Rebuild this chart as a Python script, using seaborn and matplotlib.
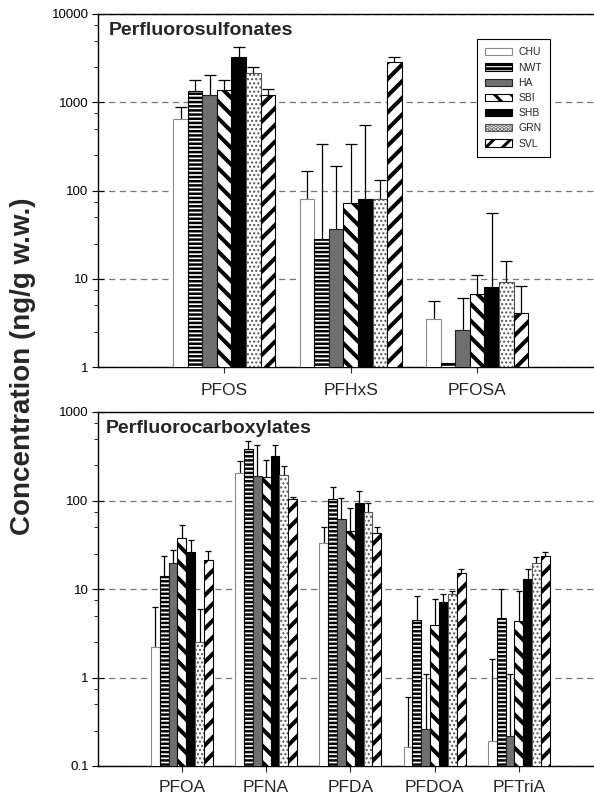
import numpy as np
import pandas as pd
import matplotlib
matplotlib.use("Agg")
import matplotlib.pyplot as plt
import matplotlib.ticker as mticker
from matplotlib.patches import Patch
import seaborn as sns

# ---------------- data ----------------
sites = ["CHU", "NWT", "HA", "SBI", "SHB", "GRN", "SVL"]

sulf_compounds = ["PFOS", "PFHxS", "PFOSA"]
sulf_mean = {
    "CHU": [640, 80, 3.5],
    "NWT": [1340, 28, 1.1],
    "HA":  [1200, 37, 2.6],
    "SBI": [1370, 73, 6.8],
    "SHB": [3230, 80, 8.1],
    "GRN": [2130, 80, 9.2],
    "SVL": [1200, 2840, 4.1],
}
sulf_upper = {
    "CHU": [880, 166, 5.6],
    "NWT": [1780, 337, np.nan],
    "HA":  [2040, 190, 6.1],
    "SBI": [1780, 337, 11],
    "SHB": [4260, 550, 56],
    "GRN": [2530, 131, 15.8],
    "SVL": [1430, 3230, 8.3],
}

carb_compounds = ["PFOA", "PFNA", "PFDA", "PFDOA", "PFTriA"]
carb_mean = {
    "CHU": [2.2, 202, 32.7, 0.165, 0.19],
    "NWT": [14, 377, 105, 4.5, 4.7],
    "HA":  [19.8, 188, 62.6, 0.265, 0.22],
    "SBI": [37.9, 182, 45.4, 3.9, 4.4],
    "SHB": [26.3, 320, 92.5, 7.1, 12.9],
    "GRN": [2.5, 193, 74.5, 8.8, 19.9],
    "SVL": [21.5, 105, 42.4, 15.2, 23.5],
}
carb_upper = {
    "CHU": [6.3, 280, 50, 0.6, 1.6],
    "NWT": [23.5, 472, 143, 8.3, 10.1],
    "HA":  [27.5, 422, 108, 1.1, 1.09],
    "SBI": [52.6, 290, 83, 7.7, 9.4],
    "SHB": [35.6, 429, 128, 8.8, 17],
    "GRN": [6.0, 244, 92.5, 9.6, 23],
    "SVL": [27, 110, 50, 16.7, 26],
}

sulf_ticks = [1, 10, 100, 1000, 10000]
sulf_ticklabels = ["1", "10", "100", "1000", "10000"]
carb_ticks = [0.1, 1, 10, 100, 1000]
carb_ticklabels = ["0.1", "1", "10", "100", "1000"]

panel_titles = ["Perfluorosulfonates", "Perfluorocarboxylates"]
ylabel = "Concentration (ng/g w.w.)"

# ---------------- style ----------------
sns.set_style("ticks")
plt.rcParams["font.family"] = ["Liberation Sans", "DejaVu Sans"]
plt.rcParams["hatch.linewidth"] = 2.2

styles = {
    "CHU": dict(facecolor="white", edgecolor="#8a8a8a", hatch=None, hlw=1.0),
    "NWT": dict(facecolor="white", edgecolor="black", hatch="----", hlw=1.8),
    "HA":  dict(facecolor="#6f6f6f", edgecolor="#222222", hatch=None, hlw=1.0),
    "SBI": dict(facecolor="white", edgecolor="black", hatch="\\\\", hlw=2.9),
    "SHB": dict(facecolor="black", edgecolor="black", hatch=None, hlw=1.0),
    "GRN": dict(facecolor="white", edgecolor="#555555", hatch="....", hlw=1.0),
    "SVL": dict(facecolor="white", edgecolor="black", hatch="//", hlw=2.9),
}

W, H = 594, 798
fig = plt.figure(figsize=(W / 100, H / 100), dpi=100)

def frac_rect(left, top, right, bottom):
    return [left / W, 1 - bottom / H, (right - left) / W, (bottom - top) / H]

ax1 = fig.add_axes(frac_rect(97.7, 14, 603.7, 367))
ax2 = fig.add_axes(frac_rect(97.7, 412, 603.0, 766))


def make_panel(ax, compounds, means, uppers, width, xlim, ylim, ticks, ticklabels,
               title, title_x, capsize, label_pad):
    rows = []
    for s in sites:
        for c, v in zip(compounds, means[s]):
            rows.append({"compound": c, "site": s, "value": v})
    df = pd.DataFrame(rows)
    sns.barplot(data=df, x="compound", y="value", hue="site", order=compounds,
                hue_order=sites, width=width, errorbar=None, ax=ax, legend=False,
                zorder=3)
    ax.set_yscale("log")
    for s, cont in zip(sites, ax.containers):
        st = styles[s]
        for bar in cont:
            bar.set_facecolor(st["facecolor"])
            bar.set_edgecolor(st["edgecolor"])
            bar.set_linewidth(0.8)
            if st["hatch"]:
                bar.set_hatch(st["hatch"])
                if hasattr(bar, "set_hatch_linewidth"):
                    bar.set_hatch_linewidth(st["hlw"])
        xs = np.array([b.get_x() + b.get_width() / 2 for b in cont])
        hs = np.array(means[s], dtype=float)
        ups = np.array(uppers[s], dtype=float)
        ok = ~np.isnan(ups)
        ax.vlines(xs[ok], hs[ok], ups[ok], color="black", lw=0.9, zorder=2.5)
        ax.plot(xs[ok], ups[ok], ls="none", marker="_", ms=capsize, mew=0.9,
                color="black", zorder=2.5)

    ax.set_xlim(*xlim)
    ax.set_ylim(*ylim)
    ax.set_yticks(ticks)
    ax.set_yticklabels(ticklabels)
    ax.yaxis.set_minor_locator(mticker.LogLocator(base=10, subs=[2.5, 5, 7.5], numticks=20))
    ax.yaxis.set_minor_formatter(mticker.NullFormatter())
    ax.tick_params(axis="y", which="major", direction="inout", length=8, width=0.8,
                   labelsize=9.5, pad=2.5, colors="black")
    ax.tick_params(axis="y", which="minor", direction="out", length=3, width=0.7)
    ax.tick_params(axis="x", which="major", direction="out", length=4.5, width=0.8,
                   labelsize=12.5, pad=label_pad)
    ax.set_xlabel("")
    ax.set_ylabel("")
    for sp in ax.spines.values():
        sp.set_visible(True)
        sp.set_color("black")
        sp.set_linewidth(1.0)
    ax.set_axisbelow(True)
    ax.yaxis.grid(True, which="major", linestyle=(0, (5, 3.5)), color="#777777", lw=0.9)
    ax.xaxis.grid(False)
    ax.text(title_x, 0.941, title, transform=ax.transAxes, fontsize=14,
            fontweight="bold", ha="left", va="baseline")


make_panel(ax1, sulf_compounds, sulf_mean, sulf_upper, 0.806, (-1, 3), (1, 10000),
           sulf_ticks, sulf_ticklabels, panel_titles[0], 0.0225, 8, 7)
make_panel(ax2, carb_compounds, carb_mean, carb_upper, 0.736, (-1, 5), (0.1, 1000),
           carb_ticks, carb_ticklabels, panel_titles[1], 0.015, 5, 5.5)

handles = []
for s in sites:
    st = styles[s]
    p = Patch(facecolor=st["facecolor"], edgecolor=st["edgecolor"], hatch=st["hatch"],
              linewidth=0.8, label=s)
    if st["hatch"] and hasattr(p, "set_hatch_linewidth"):
        p.set_hatch_linewidth(st["hlw"])
    handles.append(p)
leg = ax1.legend(handles=handles, loc="upper right", bbox_to_anchor=(0.894, 0.929),
                 fontsize=7.5, handlelength=2.6, handleheight=0.7, labelspacing=0.5,
                 handletextpad=0.6, borderpad=0.8, borderaxespad=0.0,
                 frameon=True, fancybox=False, framealpha=1, edgecolor="black")
leg.get_frame().set_linewidth(0.8)

fig.text(23.5 / W, 1 - 366 / H, ylabel, rotation=90, ha="center", va="center",
         fontsize=20, fontweight="bold")

fig.savefig("out.png", dpi=100)
